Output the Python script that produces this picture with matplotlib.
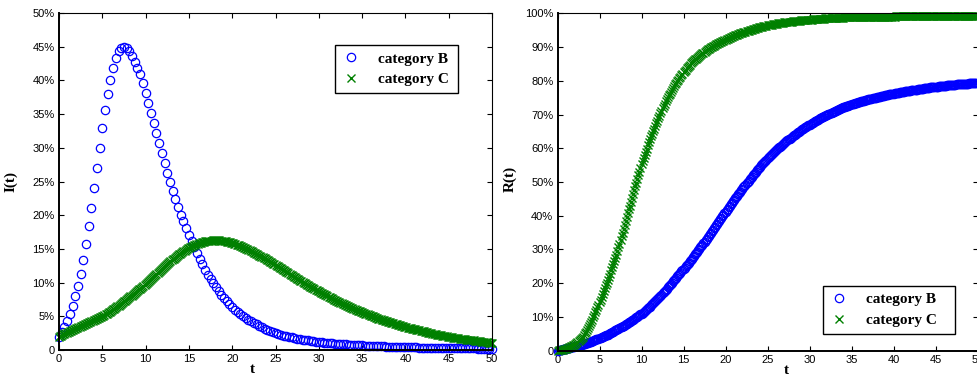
import matplotlib.pyplot as plt
import numpy as np

plt.rcParams.update({
    "figure.facecolor": "white",
    "axes.facecolor": "white",
    "font.family": "Liberation Sans",
    "font.size": 8,
    "xtick.direction": "in",
    "ytick.direction": "in",
    "xtick.top": True,
    "ytick.right": True,
    "xtick.major.size": 3.5,
    "ytick.major.size": 3.5,
    "xtick.major.width": 0.8,
    "ytick.major.width": 0.8,
})

# time grids: coarse one for category B infections, fine one for the rest
t_coarse = np.linspace(0, 50, 161)
t_fine = np.linspace(0, 50, 401)

# I(t), percent -- category B (161 samples)
infected_b = [
    2.0, 2.6, 3.4, 4.3, 5.4, 6.6, 8.0, 9.5, 11.3, 13.4, 15.8, 18.4, 21.1, 24.0, 27.0, 30.0,
    32.9, 35.6, 38.0, 40.1, 41.9, 43.3, 44.3, 44.8, 45.0, 44.8, 44.3, 43.6, 42.8, 41.9, 40.9, 39.6,
    38.2, 36.7, 35.2, 33.7, 32.2, 30.7, 29.2, 27.7, 26.3, 24.9, 23.6, 22.4, 21.2, 20.1, 19.1, 18.1,
    17.1, 16.2, 15.3, 14.4, 13.5, 12.7, 11.9, 11.2, 10.5, 9.9, 9.3, 8.7, 8.2, 7.7, 7.2, 6.8,
    6.4, 6.0, 5.7, 5.4, 5.1, 4.8, 4.5, 4.25, 4.0, 3.8, 3.55, 3.35, 3.15, 3.0, 2.8, 2.65,
    2.5, 2.38, 2.26, 2.15, 2.05, 1.95, 1.86, 1.78, 1.70, 1.62, 1.55, 1.48, 1.42, 1.36, 1.30, 1.25,
    1.20, 1.15, 1.10, 1.06, 1.02, 0.98, 0.94, 0.91, 0.88, 0.85, 0.82, 0.79, 0.76, 0.74, 0.71, 0.69,
    0.67, 0.65, 0.63, 0.61, 0.59, 0.57, 0.55, 0.54, 0.52, 0.51, 0.49, 0.48, 0.46, 0.45, 0.44, 0.43,
    0.42, 0.41, 0.40, 0.39, 0.38, 0.37, 0.36, 0.35, 0.34, 0.33, 0.33, 0.32, 0.31, 0.30, 0.30, 0.29,
    0.28, 0.28, 0.27, 0.27, 0.26, 0.25, 0.25, 0.24, 0.24, 0.23, 0.23, 0.22, 0.22, 0.21, 0.21, 0.20,
    0.20,
]

# I(t), percent -- category C (401 samples, one row per time unit)
infected_c = [
    2.0, 2.08, 2.15, 2.23, 2.3, 2.38, 2.45, 2.53,
    2.6, 2.68, 2.75, 2.83, 2.9, 2.98, 3.05, 3.13,
    3.2, 3.28, 3.35, 3.43, 3.5, 3.58, 3.65, 3.73,
    3.8, 3.88, 3.95, 4.03, 4.1, 4.18, 4.25, 4.33,
    4.4, 4.48, 4.55, 4.63, 4.7, 4.78, 4.85, 4.93,
    5.0, 5.1, 5.2, 5.3, 5.4, 5.5, 5.6, 5.7,
    5.8, 5.91, 6.03, 6.14, 6.25, 6.36, 6.48, 6.59,
    6.7, 6.83, 6.95, 7.08, 7.2, 7.33, 7.45, 7.58,
    7.7, 7.83, 7.95, 8.08, 8.2, 8.33, 8.45, 8.58,
    8.7, 8.84, 8.98, 9.11, 9.25, 9.39, 9.53, 9.66,
    9.8, 9.95, 10.1, 10.25, 10.4, 10.55, 10.7, 10.85,
    11.0, 11.15, 11.3, 11.45, 11.6, 11.75, 11.9, 12.05,
    12.2, 12.34, 12.48, 12.61, 12.75, 12.89, 13.03, 13.16,
    13.3, 13.43, 13.55, 13.68, 13.8, 13.93, 14.05, 14.18,
    14.3, 14.41, 14.53, 14.64, 14.75, 14.86, 14.98, 15.09,
    15.2, 15.28, 15.35, 15.43, 15.5, 15.58, 15.65, 15.73,
    15.8, 15.84, 15.89, 15.93, 15.98, 16.02, 16.06, 16.11,
    16.15, 16.17, 16.19, 16.21, 16.23, 16.24, 16.26, 16.28,
    16.3, 16.29, 16.28, 16.26, 16.25, 16.24, 16.23, 16.21,
    16.2, 16.16, 16.13, 16.09, 16.05, 16.01, 15.98, 15.94,
    15.9, 15.84, 15.78, 15.71, 15.65, 15.59, 15.53, 15.46,
    15.4, 15.33, 15.25, 15.18, 15.1, 15.03, 14.95, 14.88,
    14.8, 14.71, 14.63, 14.54, 14.45, 14.36, 14.28, 14.19,
    14.1, 14.01, 13.93, 13.84, 13.75, 13.66, 13.58, 13.49,
    13.4, 13.3, 13.2, 13.1, 13.0, 12.9, 12.8, 12.7,
    12.6, 12.5, 12.4, 12.3, 12.2, 12.1, 12.0, 11.9,
    11.8, 11.7, 11.6, 11.5, 11.4, 11.3, 11.2, 11.1,
    11.0, 10.9, 10.8, 10.7, 10.6, 10.5, 10.4, 10.3,
    10.2, 10.1, 10.0, 9.9, 9.8, 9.7, 9.6, 9.5,
    9.4, 9.31, 9.23, 9.14, 9.05, 8.96, 8.88, 8.79,
    8.7, 8.61, 8.53, 8.44, 8.35, 8.26, 8.18, 8.09,
    8.0, 7.91, 7.83, 7.74, 7.65, 7.56, 7.48, 7.39,
    7.3, 7.23, 7.15, 7.08, 7.0, 6.93, 6.85, 6.78,
    6.7, 6.63, 6.55, 6.48, 6.4, 6.33, 6.25, 6.18,
    6.1, 6.04, 5.98, 5.91, 5.85, 5.79, 5.73, 5.66,
    5.6, 5.54, 5.48, 5.41, 5.35, 5.29, 5.23, 5.16,
    5.1, 5.04, 4.98, 4.91, 4.85, 4.79, 4.73, 4.66,
    4.6, 4.55, 4.5, 4.45, 4.4, 4.35, 4.3, 4.25,
    4.2, 4.15, 4.1, 4.05, 4.0, 3.95, 3.9, 3.85,
    3.8, 3.75, 3.7, 3.65, 3.6, 3.55, 3.5, 3.45,
    3.4, 3.36, 3.33, 3.29, 3.25, 3.21, 3.18, 3.14,
    3.1, 3.06, 3.03, 2.99, 2.95, 2.91, 2.88, 2.84,
    2.8, 2.76, 2.71, 2.67, 2.63, 2.58, 2.54, 2.49,
    2.45, 2.42, 2.39, 2.36, 2.33, 2.29, 2.26, 2.23,
    2.2, 2.17, 2.14, 2.11, 2.08, 2.04, 2.01, 1.98,
    1.95, 1.93, 1.9, 1.88, 1.85, 1.83, 1.8, 1.78,
    1.75, 1.73, 1.7, 1.68, 1.65, 1.63, 1.6, 1.58,
    1.55, 1.53, 1.51, 1.49, 1.48, 1.46, 1.44, 1.42,
    1.4, 1.38, 1.35, 1.33, 1.3, 1.28, 1.25, 1.23,
    1.2, 1.18, 1.16, 1.14, 1.13, 1.11, 1.09, 1.07,
    1.05,
]

# R(t), percent -- category B (401 samples)
removed_b = [
    0.0, 0.08, 0.15, 0.23, 0.3, 0.38, 0.45, 0.53,
    0.6, 0.68, 0.75, 0.83, 0.9, 0.98, 1.05, 1.13,
    1.2, 1.29, 1.38, 1.46, 1.55, 1.64, 1.73, 1.81,
    1.9, 2.0, 2.1, 2.2, 2.3, 2.4, 2.5, 2.6,
    2.7, 2.83, 2.95, 3.08, 3.2, 3.33, 3.45, 3.58,
    3.7, 3.84, 3.98, 4.11, 4.25, 4.39, 4.53, 4.66,
    4.8, 4.98, 5.15, 5.33, 5.5, 5.68, 5.85, 6.03,
    6.2, 6.38, 6.55, 6.73, 6.9, 7.08, 7.25, 7.43,
    7.6, 7.8, 8.0, 8.2, 8.4, 8.6, 8.8, 9.0,
    9.2, 9.43, 9.65, 9.88, 10.1, 10.33, 10.55, 10.78,
    11.0, 11.26, 11.53, 11.79, 12.05, 12.31, 12.58, 12.84,
    13.1, 13.41, 13.73, 14.04, 14.35, 14.66, 14.98, 15.29,
    15.6, 15.95, 16.3, 16.65, 17.0, 17.35, 17.7, 18.05,
    18.4, 18.76, 19.13, 19.49, 19.85, 20.21, 20.58, 20.94,
    21.3, 21.66, 22.03, 22.39, 22.75, 23.11, 23.48, 23.84,
    24.2, 24.59, 24.98, 25.36, 25.75, 26.14, 26.53, 26.91,
    27.3, 27.71, 28.13, 28.54, 28.95, 29.36, 29.78, 30.19,
    30.6, 31.03, 31.45, 31.88, 32.3, 32.73, 33.15, 33.58,
    34.0, 34.45, 34.9, 35.35, 35.8, 36.25, 36.7, 37.15,
    37.6, 38.05, 38.5, 38.95, 39.4, 39.85, 40.3, 40.75,
    41.2, 41.64, 42.08, 42.51, 42.95, 43.39, 43.83, 44.26,
    44.7, 45.11, 45.53, 45.94, 46.35, 46.76, 47.18, 47.59,
    48.0, 48.4, 48.8, 49.2, 49.6, 50.0, 50.4, 50.8,
    51.2, 51.58, 51.95, 52.33, 52.7, 53.08, 53.45, 53.83,
    54.2, 54.55, 54.9, 55.25, 55.6, 55.95, 56.3, 56.65,
    57.0, 57.3, 57.6, 57.9, 58.2, 58.5, 58.8, 59.1,
    59.4, 59.68, 59.95, 60.23, 60.5, 60.78, 61.05, 61.33,
    61.6, 61.85, 62.1, 62.35, 62.6, 62.85, 63.1, 63.35,
    63.6, 63.83, 64.05, 64.28, 64.5, 64.73, 64.95, 65.18,
    65.4, 65.6, 65.8, 66.0, 66.2, 66.4, 66.6, 66.8,
    67.0, 67.19, 67.38, 67.56, 67.75, 67.94, 68.13, 68.31,
    68.5, 68.66, 68.83, 68.99, 69.15, 69.31, 69.48, 69.64,
    69.8, 69.95, 70.1, 70.25, 70.4, 70.55, 70.7, 70.85,
    71.0, 71.14, 71.28, 71.41, 71.55, 71.69, 71.83, 71.96,
    72.1, 72.21, 72.33, 72.44, 72.55, 72.66, 72.78, 72.89,
    73.0, 73.1, 73.2, 73.3, 73.4, 73.5, 73.6, 73.7,
    73.8, 73.89, 73.98, 74.06, 74.15, 74.24, 74.33, 74.41,
    74.5, 74.58, 74.65, 74.73, 74.8, 74.88, 74.95, 75.03,
    75.1, 75.18, 75.25, 75.33, 75.4, 75.48, 75.55, 75.63,
    75.7, 75.76, 75.83, 75.89, 75.95, 76.01, 76.08, 76.14,
    76.2, 76.26, 76.33, 76.39, 76.45, 76.51, 76.58, 76.64,
    76.7, 76.75, 76.8, 76.85, 76.9, 76.95, 77.0, 77.05,
    77.1, 77.15, 77.2, 77.25, 77.3, 77.35, 77.4, 77.45,
    77.5, 77.55, 77.6, 77.65, 77.7, 77.75, 77.8, 77.85,
    77.9, 77.94, 77.98, 78.01, 78.05, 78.09, 78.13, 78.16,
    78.2, 78.24, 78.28, 78.31, 78.35, 78.39, 78.43, 78.46,
    78.5, 78.54, 78.58, 78.61, 78.65, 78.69, 78.73, 78.76,
    78.8, 78.83, 78.85, 78.88, 78.9, 78.93, 78.95, 78.98,
    79.0, 79.03, 79.05, 79.08, 79.1, 79.13, 79.15, 79.18,
    79.2, 79.23, 79.25, 79.28, 79.3, 79.33, 79.35, 79.38,
    79.4,
]

# R(t), percent -- category C (401 samples)
removed_c = [
    0.0, 0.06, 0.13, 0.19, 0.25, 0.31, 0.38, 0.44,
    0.5, 0.66, 0.83, 0.99, 1.15, 1.31, 1.48, 1.64,
    1.8, 2.08, 2.35, 2.63, 2.9, 3.18, 3.45, 3.73,
    4.0, 4.55, 5.1, 5.65, 6.2, 6.75, 7.3, 7.85,
    8.4, 9.14, 9.88, 10.61, 11.35, 12.09, 12.83, 13.56,
    14.3, 15.14, 15.98, 16.81, 17.65, 18.49, 19.33, 20.16,
    21.0, 21.94, 22.88, 23.81, 24.75, 25.69, 26.63, 27.56,
    28.5, 29.59, 30.68, 31.76, 32.85, 33.94, 35.03, 36.11,
    37.2, 38.36, 39.53, 40.69, 41.85, 43.01, 44.18, 45.34,
    46.5, 47.59, 48.68, 49.76, 50.85, 51.94, 53.03, 54.11,
    55.2, 56.14, 57.08, 58.01, 58.95, 59.89, 60.83, 61.76,
    62.7, 63.49, 64.28, 65.06, 65.85, 66.64, 67.43, 68.21,
    69.0, 69.7, 70.4, 71.1, 71.8, 72.5, 73.2, 73.9,
    74.6, 75.14, 75.68, 76.21, 76.75, 77.29, 77.83, 78.36,
    78.9, 79.36, 79.83, 80.29, 80.75, 81.21, 81.68, 82.14,
    82.6, 82.96, 83.33, 83.69, 84.05, 84.41, 84.78, 85.14,
    85.5, 85.78, 86.05, 86.33, 86.6, 86.88, 87.15, 87.43,
    87.7, 87.93, 88.15, 88.38, 88.6, 88.83, 89.05, 89.28,
    89.5, 89.69, 89.88, 90.06, 90.25, 90.44, 90.63, 90.81,
    91.0, 91.15, 91.3, 91.45, 91.6, 91.75, 91.9, 92.05,
    92.2, 92.34, 92.48, 92.61, 92.75, 92.89, 93.03, 93.16,
    93.3, 93.43, 93.55, 93.68, 93.8, 93.93, 94.05, 94.18,
    94.3, 94.4, 94.5, 94.6, 94.7, 94.8, 94.9, 95.0,
    95.1, 95.19, 95.28, 95.36, 95.45, 95.54, 95.63, 95.71,
    95.8, 95.88, 95.95, 96.03, 96.1, 96.18, 96.25, 96.33,
    96.4, 96.46, 96.53, 96.59, 96.65, 96.71, 96.78, 96.84,
    96.9, 96.95, 97.0, 97.05, 97.1, 97.15, 97.2, 97.25,
    97.3, 97.34, 97.38, 97.41, 97.45, 97.49, 97.53, 97.56,
    97.6, 97.64, 97.68, 97.71, 97.75, 97.79, 97.83, 97.86,
    97.9, 97.93, 97.95, 97.98, 98.0, 98.03, 98.05, 98.08,
    98.1, 98.13, 98.15, 98.18, 98.2, 98.23, 98.25, 98.28,
    98.3, 98.33, 98.35, 98.38, 98.4, 98.43, 98.45, 98.48,
    98.5, 98.52, 98.53, 98.55, 98.57, 98.58, 98.6, 98.61,
    98.63, 98.65, 98.66, 98.68, 98.69, 98.71, 98.72, 98.74,
    98.75, 98.76, 98.77, 98.78, 98.79, 98.8, 98.81, 98.82,
    98.83, 98.84, 98.85, 98.86, 98.87, 98.87, 98.88, 98.89,
    98.9, 98.91, 98.91, 98.92, 98.93, 98.93, 98.94, 98.94,
    98.95, 98.96, 98.96, 98.97, 98.98, 98.98, 98.99, 98.99,
    99.0, 99.0, 99.01, 99.01, 99.02, 99.02, 99.02, 99.03,
    99.03, 99.03, 99.04, 99.04, 99.04, 99.04, 99.05, 99.05,
    99.05, 99.05, 99.06, 99.06, 99.06, 99.06, 99.07, 99.07,
    99.07, 99.07, 99.08, 99.08, 99.08, 99.08, 99.09, 99.09,
    99.09, 99.09, 99.1, 99.1, 99.1, 99.1, 99.11, 99.11,
    99.11, 99.11, 99.12, 99.12, 99.12, 99.12, 99.13, 99.13,
    99.13, 99.13, 99.14, 99.14, 99.14, 99.14, 99.15, 99.15,
    99.15, 99.15, 99.15, 99.15, 99.16, 99.16, 99.16, 99.16,
    99.16, 99.16, 99.16, 99.16, 99.17, 99.17, 99.17, 99.17,
    99.17, 99.17, 99.17, 99.17, 99.18, 99.18, 99.18, 99.18,
    99.18, 99.18, 99.18, 99.18, 99.19, 99.19, 99.19, 99.19,
    99.19, 99.19, 99.19, 99.19, 99.2, 99.2, 99.2, 99.2,
    99.2,
]

labels = ["category B", "category C"]
x_ticks = list(range(0, 51, 5))
left_yticks = list(range(0, 51, 5))
right_yticks = list(range(0, 101, 10))

BLUE = "#0000ff"
GREEN = "#008000"
serif_bold = dict(family="Liberation Serif", weight="bold", size=11)

W, H = 977, 377
fig = plt.figure(figsize=(W / 100, H / 100), dpi=100)
ax1 = fig.add_axes([59 / W, 27 / H, 433 / W, 337 / H])
ax2 = fig.add_axes([557.5 / W, 26.3 / H, 420 / W, 337.4 / H])


def style(ax, yticks, ymax):
    ax.set_xlim(0, 50)
    ax.set_ylim(0, ymax)
    ax.set_xticks(x_ticks)
    ax.set_xticklabels([str(v) for v in x_ticks])
    ax.set_yticks(yticks)
    ax.set_yticklabels(["0"] + [f"{v}%" for v in yticks[1:]])
    ax.tick_params(axis="x", pad=3)
    ax.tick_params(axis="y", pad=3)
    for side in ["left", "bottom"]:
        ax.spines[side].set_linewidth(1.4)
    for side in ["top", "right"]:
        ax.spines[side].set_linewidth(0.8)


def draw(ax, tb, yb, tc, yc):
    ax.plot(tb, yb, linestyle="none", marker="o", markersize=6, markerfacecolor="none",
            markeredgecolor=BLUE, markeredgewidth=0.9, clip_on=False, label=labels[0])
    ax.plot(tc, yc, linestyle="none", marker="x", markersize=5.5,
            color=GREEN, markeredgewidth=1.0, clip_on=False, label=labels[1])


def legend(ax, anchor):
    leg = ax.legend(loc="upper left", bbox_to_anchor=anchor, mode="expand",
                    prop=serif_bold, frameon=True, fancybox=False, edgecolor="black",
                    framealpha=1, borderaxespad=0, handlelength=1.2, handletextpad=1.2,
                    borderpad=0.45, labelspacing=0.45)
    leg.get_frame().set_linewidth(1.0)


draw(ax1, t_coarse, infected_b, t_fine, infected_c)
style(ax1, left_yticks, 50)
ax1.set_ylabel("I(t)", fontdict=serif_bold)
ax1.yaxis.set_label_coords(-0.096, 0.5)
ax1.set_xlabel("t", fontdict=serif_bold)
ax1.xaxis.set_label_coords(0.446, -0.038)
legend(ax1, (0.637, 0.905, 0.285, 0.0))

draw(ax2, t_fine, removed_b, t_fine, removed_c)
style(ax2, right_yticks, 100)
ax2.set_ylabel("R(t)", fontdict=serif_bold)
ax2.yaxis.set_label_coords(-0.096, 0.51)
ax2.set_xlabel("t", fontdict=serif_bold)
ax2.xaxis.set_label_coords(0.546, -0.038)
legend(ax2, (0.631, 0.192, 0.315, 0.0))

fig.savefig("out.png", dpi=100, facecolor="white")
plt.close(fig)
